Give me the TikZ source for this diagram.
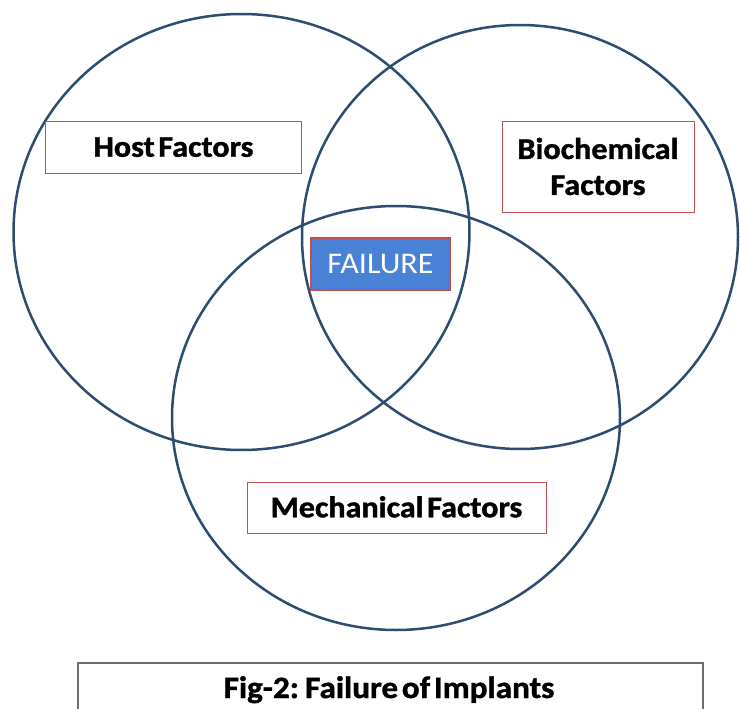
\documentclass[tikz,border=0pt]{standalone}
\usepackage{fontspec}
\setmainfont{Carlito}
\newfontfamily\heavyfont[FakeBold=1.3,WordSpace=0.5,FakeStretch=1.07]{Carlito}
\newfontfamily\widefont[FakeStretch=1.07]{Carlito}
\definecolor{ringcol}{HTML}{2D4C70}
\definecolor{boxred}{HTML}{C0504D}
\definecolor{failblue}{HTML}{4A82D6}
\definecolor{capgray}{HTML}{6E6E6E}
\begin{document}
\begin{tikzpicture}[x=1pt,y=-1pt,
  ring/.style={draw=ringcol,line width=2.5pt},
  factorbox/.style={draw=boxred,line width=0.9pt,fill=white,inner sep=0pt,
    font=\fontsize{30}{36}\heavyfont\bfseries,text height=19.5pt,text depth=0pt},
  failbox/.style={draw=boxred,line width=1.2pt,fill=failblue,text=white,inner sep=0pt,
    font=\fontsize{30}{36}\widefont,text height=19.5pt,text depth=0pt},
  captext/.style={inner sep=0pt,font=\fontsize{31}{36}\heavyfont\bfseries}]
\useasboundingbox (0,0) rectangle (740,709);
\clip (0,0) rectangle (740,709);
\fill[white] (0,0) rectangle (740,709);
% circles
\draw[ring] (241.5,232) ellipse [x radius=228pt, y radius=218pt];
\draw[ring] (520,237) ellipse [x radius=218pt, y radius=212pt];
\draw[ring] (396,418) ellipse [x radius=224pt, y radius=212pt];
% boxes
\node[factorbox,minimum width=256pt,minimum height=52pt] (host) at (173.5,147) {Host Factors};
\node[factorbox,minimum width=192pt,minimum height=91pt,align=center,text height=,text depth=] (bio) at (598,166.5) {Biochemical\\Factors};
\node[factorbox,minimum width=299pt,minimum height=51pt] (mech) at (396.5,507.5) {Mechanical Factors};
\node[failbox,minimum width=139pt,minimum height=52pt] (fail) at (380.5,264) {FAILURE};
% caption
\draw[capgray,line width=1.8pt] (78,720) -- (78,663) -- (703,663) -- (703,720);
\node[captext,anchor=base] (cap) at (389,698) {Fig-2: Failure of Implants};
\end{tikzpicture}
\end{document}
